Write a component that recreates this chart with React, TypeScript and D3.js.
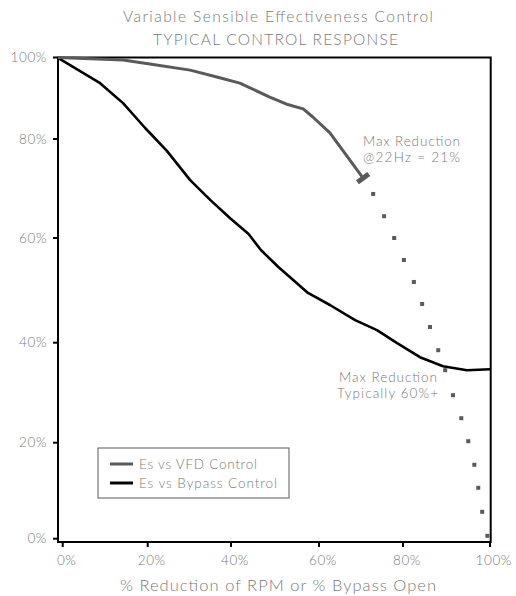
import React from "react";
import * as d3 from "d3";

// ---- data ----
const tickValues = [0, 20, 40, 60, 80, 100];
const tickLabels = ["0%", "20%", "40%", "60%", "80%", "100%"];

const vfdX = [-1.1, 14.2, 20.5, 30.2, 36.6, 42.0, 48.8, 52.5, 56.4, 58.6, 62.6, 70.5];
const vfdY = [100, 99.4, 98.4, 96.9, 95.2, 93.7, 90.3, 88.6, 87.4, 85.4, 81.5, 72.1];

const bypassX = [-1.1, 8.8, 14.2, 19.4, 24.6, 30.2, 35.0, 39.8, 44.0, 46.8, 50.7, 57.5, 62.6, 68.6, 73.8, 78.6, 83.9, 89.2, 94.7, 100];
const bypassY = [99.9, 93.7, 88.8, 82.7, 77.6, 71.7, 67.7, 64.0, 60.8, 57.7, 54.5, 49.5, 47.2, 44.3, 42.4, 39.9, 37.1, 35.3, 34.5, 34.7];

const extX = [72.9, 75.5, 77.9, 80.2, 82.5, 84.4, 86.2, 88.1, 89.7, 91.5, 93.4, 95.0, 96.4, 97.3, 98.2, 99.4];
const extY = [68.9, 64.4, 60.0, 55.8, 51.6, 47.4, 43.0, 38.5, 34.5, 29.5, 24.9, 20.3, 15.4, 10.6, 5.6, 0.6];

const seriesNames = ["Es vs VFD Control", "Es vs Bypass Control"];
const titleLines = ["Variable Sensible Effectiveness Control", "TYPICAL CONTROL RESPONSE"];
const xTitle = "% Reduction of RPM or % Bypass Open";
const note1 = ["Max Reduction", "@22Hz = 21%"];
const note2 = ["Max Reduction", "Typically 60%+"];

const W = 516;
const H = 596;
const FONT = "Lato, 'DejaVu Sans', sans-serif";
const TXT = "#7a7a7a";
const GRAY = "#5a5a5a";

export default function App() {
  const x = d3.scaleLinear().domain(tickValues).range([62.7, 147.7, 231, 319, 403, 490]);
  const y = d3.scaleLinear().domain(tickValues).range([538.7, 442.7, 342.7, 238, 139, 57.5]);

  const left = 58, right = 490.7, top = 57.5, bottom = 542;

  const line = d3.line<[number, number]>()
    .x((d) => x(d[0]))
    .y((d) => y(d[1]))
    .curve(d3.curveLinear);

  const vfd = vfdX.map((v, i) => [v, vfdY[i]] as [number, number]);
  const byp = bypassX.map((v, i) => [v, bypassY[i]] as [number, number]);
  const ext = extX.map((v, i) => [v, extY[i]] as [number, number]);

  // end cap of VFD line
  const n = vfd.length;
  const ex = x(vfd[n - 1][0]), ey = y(vfd[n - 1][1]);
  const px = x(vfd[n - 2][0]), py = y(vfd[n - 2][1]);
  const ang = (Math.atan2(ey - py, ex - px) * 180) / Math.PI;

  const T = (props: any) => (
    <text fill={TXT} fontWeight={300} lengthAdjust="spacing" {...props} />
  );

  return (
    <svg width={W} height={H} style={{ position: "absolute", left: 0, top: 0, background: "#fff" }} fontFamily={FONT}>
      <rect x={0} y={0} width={W} height={H} fill="#fff" />
      {/* titles */}
      <T x={123} y={22} fontSize={15.5} textLength={310}>{titleLines[0]}</T>
      <T x={153} y={45} fontSize={15.5} textLength={245}>{titleLines[1]}</T>

      {/* plot frame */}
      <rect x={left} y={top} width={right - left} height={bottom - top} fill="none" stroke="#000" strokeWidth={2} />

      {/* y ticks */}
      {tickValues.map((v, i) => (
        <g key={"y" + v}>
          <line x1={left - 5} x2={left} y1={y(v)} y2={y(v)} stroke="#000" strokeWidth={2} />
          <T x={47} y={y(v) + 4.5} textAnchor="end" fontSize={13.5} letterSpacing={0.6}>{tickLabels[i]}</T>
        </g>
      ))}
      {/* x ticks */}
      {tickValues.map((v, i) => (
        <g key={"x" + v}>
          <line x1={x(v)} x2={x(v)} y1={bottom} y2={bottom + 5} stroke="#000" strokeWidth={2} />
          <T x={i === 5 ? 512 : x(v) + 4} y={565} textAnchor={i === 5 ? "end" : "middle"} fontSize={13.5} letterSpacing={0.6}>{tickLabels[i]}</T>
        </g>
      ))}
      <T x={120} y={591} fontSize={16.5} textLength={316}>{xTitle}</T>

      {/* series */}
      <path d={line(byp) || ""} fill="none" stroke="#000" strokeWidth={2.6} strokeLinejoin="round" />
      <path d={line(vfd) || ""} fill="none" stroke={GRAY} strokeWidth={3} strokeLinejoin="round" />
      <rect x={ex - 2.5} y={ey - 7} width={5} height={14} fill={GRAY} transform={`rotate(${ang} ${ex} ${ey})`} />
      {ext.map((d, i) => (
        <rect key={"e" + i} x={x(d[0]) - 2} y={y(d[1]) - 2} width={4} height={4} fill={GRAY} />
      ))}

      {/* annotations */}
      <T x={363} y={146} fontSize={13.5} textLength={97}>{note1[0]}</T>
      <T x={363} y={162} fontSize={13.5} textLength={97}>{note1[1]}</T>
      <T x={339} y={382} fontSize={13.5} textLength={98}>{note2[0]}</T>
      <T x={337} y={398} fontSize={13.5} textLength={101}>{note2[1]}</T>

      {/* legend */}
      <rect x={98} y={448} width={191} height={50} fill="#fff" stroke={GRAY} strokeWidth={1} />
      <line x1={110} x2={133} y1={464} y2={464} stroke={GRAY} strokeWidth={3} />
      <line x1={110} x2={133} y1={483} y2={483} stroke="#000" strokeWidth={3} />
      <T x={139} y={469} fontSize={13.5} textLength={118}>{seriesNames[0]}</T>
      <T x={139} y={488} fontSize={13.5} textLength={138}>{seriesNames[1]}</T>
    </svg>
  );
}
